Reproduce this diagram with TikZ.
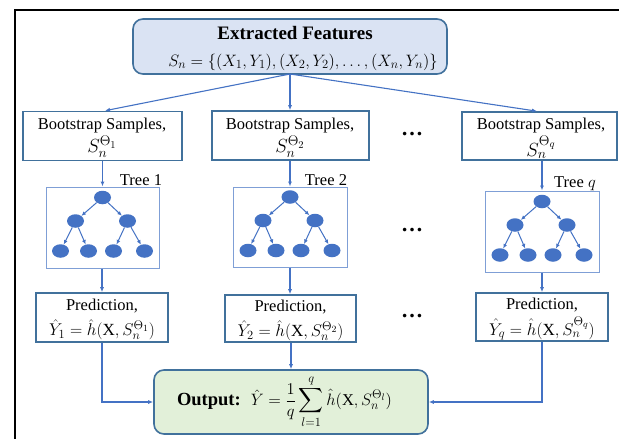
\documentclass[tikz,border=0pt]{standalone}
\usepackage{fix-cm}
\usepackage{amsmath}
\usepackage{fontspec}
\setmainfont{Liberation Serif}
\DeclareMathSizes{16.5}{16.5}{12.5}{9.5}
\DeclareMathSizes{17}{17}{12.5}{9.5}
\DeclareMathSizes{19}{19}{14}{10.5}
\usetikzlibrary{arrows.meta,shapes.geometric,calc}
\definecolor{bordblue}{HTML}{41719C}
\definecolor{lineblue}{HTML}{4472C4}
\definecolor{topfill}{HTML}{DAE3F3}
\definecolor{outfill}{HTML}{E2F0D9}
\definecolor{treebord}{HTML}{7F9FD6}
\begin{document}
\begin{tikzpicture}[x=1pt,y=-1pt,
  mainbox/.style={draw=bordblue, line width=1.6pt, fill=white, inner sep=0pt},
  roundbox/.style={mainbox, rounded corners=10pt},
  treebox/.style={draw=treebord, line width=1pt, fill=white, inner sep=0pt},
  tnode/.style={ellipse, fill=lineblue, minimum width=17pt, minimum height=13.5pt, inner sep=0pt},
  conn/.style={draw=lineblue, line width=1.1pt, -{Latex[length=5pt,width=4pt]}},
  tconn/.style={draw=lineblue, line width=1pt, -{Latex[length=4.5pt,width=4pt]}},
  txt/.style={inner sep=0pt, font=\fontsize{16.5}{19}\selectfont},
  mtxt/.style={inner sep=0pt, font=\fontsize{19}{21}\selectfont},
  ptxt/.style={inner sep=0pt, font=\fontsize{17}{19}\selectfont},
  btxt/.style={inner sep=0pt, font=\fontsize{19}{21}\selectfont\bfseries},
  dots/.style={inner sep=0pt, font=\fontsize{22}{22}\selectfont\bfseries},
]
\useasboundingbox (0,0) rectangle (619,439);
\fill[white] (0,0) rectangle (619,439);
% outer frame (left and top sides)
\draw[black, line width=2pt] (15,439) -- (15,9.5) -- (619,9.5);

% top box
\node[roundbox, fill=topfill, minimum width=314pt, minimum height=55pt] (top) at (290,46.5) {};
\node[btxt] (toptitle) at (295,33) {Extracted Features};
\node[txt] (topform) at (303,62) {$S_n=\{(X_1,Y_1),(X_2,Y_2),\ldots,(X_n,Y_n)\}$};

% bootstrap boxes
\node[mainbox, minimum width=159pt, minimum height=49pt] (b1) at (102.5,136) {};
\node[mainbox, minimum width=157pt, minimum height=49pt] (b2) at (290.5,135.5) {};
\node[mainbox, minimum width=155pt, minimum height=48pt] (b3) at (539.5,136) {};
\node[txt] (b1t) at (102,125.5) {Bootstrap Samples,};
\node[mtxt] (b1m) at (102,147) {$S_n^{\Theta_1}$};
\node[txt] (b2t) at (290,125.5) {Bootstrap Samples,};
\node[mtxt] (b2m) at (290,147) {$S_n^{\Theta_2}$};
\node[txt] (b3t) at (541,125.5) {Bootstrap Samples,};
\node[mtxt] (b3m) at (541,147) {$S_n^{\Theta_q}$};

\coordinate (tops) at (290,74);
\draw[conn] (tops) -- ($(b1.north)+(2.5,0)$);
\draw[conn] (tops) -- (b2.north -| tops);
\draw[conn] (tops) -- ($(b3.north)+(-2.5,0)$);

% tree boxes
\node[treebox, minimum width=113pt, minimum height=81pt] (t1) at (102.5,227.5) {};
\node[treebox, minimum width=114pt, minimum height=80pt] (t2) at (290,227) {};
\node[treebox, minimum width=114pt, minimum height=81pt] (t3) at (542,231.5) {};

\node[txt] (t1l) at (141,180) {Tree 1};
\node[txt] (t2l) at (326,180) {Tree 2};
\node[txt] (t3l) at (575,184) {Tree $q$};

\foreach \t in {t1,t2,t3}{
  \node[tnode] (\t r) at ($(\t)+(0,-30)$) {};
  \node[tnode] (\t a) at ($(\t)+(-27,-6.5)$) {};
  \node[tnode] (\t b) at ($(\t)+(25,-6.5)$) {};
  \node[tnode] (\t c) at ($(\t)+(-42,23.5)$) {};
  \node[tnode] (\t d) at ($(\t)+(-14,23.5)$) {};
  \node[tnode] (\t e) at ($(\t)+(11,23.5)$) {};
  \node[tnode] (\t f) at ($(\t)+(42,23.5)$) {};
  \draw[tconn] (\t r) -- (\t a);
  \draw[tconn] (\t r) -- (\t b);
  \draw[tconn] (\t a) -- (\t c);
  \draw[tconn] (\t a) -- (\t d);
  \draw[tconn] (\t b) -- (\t e);
  \draw[tconn] (\t b) -- (\t f);
}

\draw[conn] (b1.south) -- (t1.north);
\draw[conn] (b2.south -| t2) -- (t2.north);
\draw[conn] (b3.south -| t3) -- (t3.north);

% prediction boxes
\node[mainbox, minimum width=132pt, minimum height=49pt] (p1) at (102,317.5) {};
\node[mainbox, minimum width=131pt, minimum height=47pt] (p2) at (290.5,318.5) {};
\node[mainbox, minimum width=132pt, minimum height=48pt] (p3) at (542,317) {};
\node[txt] (p1t) at (102,306) {Prediction,};
\node[ptxt] (p1m) at (102,329.5) {$\hat{Y}_1=\hat{h}(\mathrm{X},S_n^{\Theta_1})$};
\node[txt] (p2t) at (290.5,307) {Prediction,};
\node[ptxt] (p2m) at (290.5,330.5) {$\hat{Y}_2=\hat{h}(\mathrm{X},S_n^{\Theta_2})$};
\node[txt] (p3t) at (542,305) {Prediction,};
\node[ptxt] (p3m) at (542,328.5) {$\hat{Y}_q=\hat{h}(\mathrm{X},S_n^{\Theta_q})$};

\draw[conn] (t1.south -| p1) -- (p1.north);
\draw[conn] (t2.south) -- (p2.north -| t2);
\draw[conn] (t3.south) -- (p3.north);

% dots
\node[dots] (d1) at (412,134) {\ldots};
\node[dots] (d2) at (412,230) {\ldots};
\node[dots] (d3) at (412,316) {\ldots};

% output
\node[roundbox, fill=outfill, minimum width=274pt, minimum height=64pt] (out) at (291,402) {};
\node[txt] (outt) at (284.5,402) {{\fontsize{18.5}{20}\selectfont\bfseries Output:}\hspace{10pt}$\hat{Y}=\dfrac{1}{q}\displaystyle\sum_{l=1}^{q}\hat{h}(\mathrm{X},S_n^{\Theta_l})$};

\draw[conn] (p1.south) |- (out.west);
\draw[conn] (p3.south) |- (out.east);
\draw[conn] (p2.south -| out) -- (out.north);
\end{tikzpicture}
\end{document}
